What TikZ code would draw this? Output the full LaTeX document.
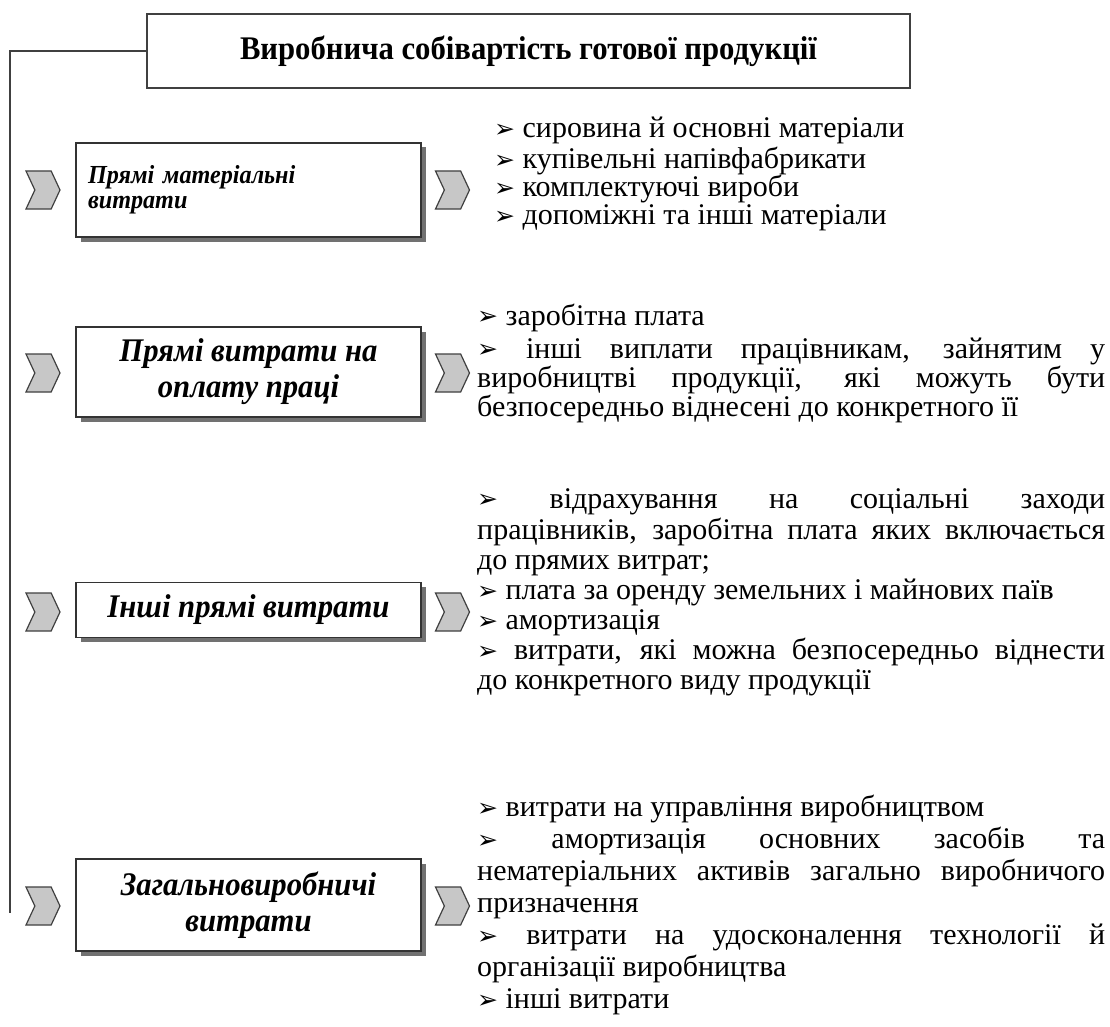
\documentclass[tikz,border=0pt]{standalone}
\usepackage{fontspec}
\setmainfont{Liberation Serif}[FakeStretch=0.93]
\newfontfamily\bodyfont{Liberation Serif}
\newfontfamily\symfont{DejaVu Sans}
\usetikzlibrary{shapes.symbols,shadows}
\setlength\parindent{0pt}
\newcommand{\blt}{{\symfont\fontsize{25}{25}\selectfont\raisebox{0.5pt}{➢}}\ }
\tikzset{
  titlebox/.style={draw=black!75, line width=1.4pt, fill=white, minimum width=763pt, minimum height=74pt, inner sep=0pt, font=\fontsize{33}{36}\selectfont\bfseries},
  catbox/.style={draw=black!80, line width=1.4pt, fill=white, minimum width=345pt, inner sep=0pt, align=center,
    font=\fontsize{33}{36}\selectfont\bfseries\itshape,
    drop shadow={shadow xshift=4.5pt, shadow yshift=-4.5pt, fill=black!65, opacity=0.85}},
  chev/.style={signal, signal to=east, signal from=west, signal pointer angle=130, draw=black!75, line width=1.2pt, fill=black!22, minimum width=34pt, minimum height=38pt, inner sep=0pt},
  listtext/.style={anchor=north west, inner sep=0pt, text width=628pt, align=justify},
  conn/.style={draw=black!75, line width=1.6pt},
}
\begin{document}
\begin{tikzpicture}[x=1pt,y=-1pt]
\useasboundingbox[fill=white] (0,0) rectangle (1110,1027);

\node[titlebox] (title) at (528.5,51) {Виробнича собівартість готової продукції};
\coordinate (lineend) at (10,913);
\draw[conn] (title.west) -| (lineend);

% category boxes
\node[catbox, minimum height=94pt, text width=321pt, align=left, font=\fontsize{26}{25}\selectfont\bfseries\itshape] (b1) at (248.5,190) {Прямі матеріальні\\витрати\\[14pt]};
\node[catbox, minimum height=90pt] (b2) at (248.5,372) {Прямі витрати на\\оплату праці};
\node[catbox, minimum height=55pt] (b3) at (248.5,610) {Інші прямі витрати};
\node[catbox, minimum height=92pt] (b4) at (248.5,905) {Загальновиробничі\\витрати};

% chevrons
\node[chev] (l1) at (43,190) {};
\node[chev] (r1) at (452.5,190) {};
\node[chev] (l2) at (43,373) {};
\node[chev] (r2) at (452.5,373) {};
\node[chev] (l3) at (43,612) {};
\node[chev] (r3) at (452.5,612) {};
\node[chev] (l4) at (43,906) {};
\node[chev] (r4) at (452.5,906) {};

% lists
\node[listtext, text width=600pt, font=\bodyfont\fontsize{30}{28}\selectfont] (t1) at (494,117) {\strut\blt сировина й основні матеріали\\
\blt купівельні напівфабрикати\\
\blt комплектуючі вироби\\
\blt допоміжні та інші матеріали};

\node[listtext, font=\bodyfont\fontsize{30}{29}\selectfont] (t2) at (477,303.5) {\strut\blt заробітна плата\par\vspace{3pt}
\blt інші виплати працівникам, зайнятим у\linebreak виробництві продукції, які можуть бути\linebreak безпосередньо віднесені до конкретного її};

\node[listtext, font=\bodyfont\fontsize{30}{30}\selectfont] (t3) at (477,487) {\strut\blt відрахування на соціальні заходи\linebreak працівників, заробітна плата яких включається\linebreak до прямих витрат;\par
\blt плата за оренду земельних і майнових паїв\par
\blt амортизація\par
\blt витрати, які можна безпосередньо віднести\linebreak до конкретного виду продукції};

\node[listtext, font=\bodyfont\fontsize{30}{32}\selectfont] (t4) at (477,794) {\strut\blt витрати на управління виробництвом\par
\blt амортизація основних засобів та\linebreak нематеріальних активів загально виробничого\linebreak призначення\par
\blt витрати на удосконалення технології й\linebreak організації виробництва\par
\blt інші витрати};
\end{tikzpicture}
\end{document}
